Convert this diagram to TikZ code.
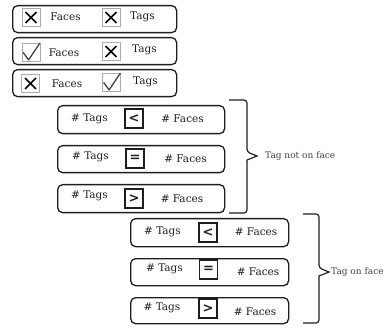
\documentclass[tikz,border=0pt]{standalone}
\usepackage{fontspec}
\usetikzlibrary{calc}
\setmainfont{DejaVu Serif}
\newfontfamily\symfont{DejaVu Sans}
\definecolor{ink}{HTML}{1E1E1E}
\tikzset{
  rowbox/.style={draw=ink, line width=1.3pt, rounded corners=5pt, inner sep=0pt, anchor=north west},
  lbl/.style={text=ink, font=\fontsize{10.5}{12}\selectfont, inner sep=0pt},
  blbl/.style={text=ink!85, font=\fontsize{9}{11}\selectfont, inner sep=0pt, anchor=west},
  cbox/.style={draw=gray!65, line width=0.8pt, minimum size=18pt, inner sep=0pt},
  sbox/.style={draw=ink, line width=1.4pt, minimum width=18pt, minimum height=19pt, inner sep=0pt, font=\symfont\bfseries\fontsize{13}{13}\selectfont, text=ink},
  xline/.style={draw=black, line width=1.7pt},
  vline/.style={draw=ink!85, line width=1.3pt, line join=round},
  bracel/.style={draw=ink, line width=1.2pt, rounded corners=3pt}
}
\newcommand\drawX[1]{\draw[xline] ($(#1.north west)+(4,4)$) -- ($(#1.south east)+(-4,-4)$) ($(#1.north east)+(-4,4)$) -- ($(#1.south west)+(4,-4)$);}
\newcommand\drawV[1]{\draw[vline] ($(#1.south west)+(1.5,-9)$) -- ($(#1.south west)+(7,-1.5)$) -- ($(#1.north east)+(-0.5,0.5)$);}
\begin{document}
\begin{tikzpicture}[x=1pt,y=-1pt]
\useasboundingbox (0,0) rectangle (390,328);
% top rows
\node[rowbox, minimum width=164pt, minimum height=27pt] (t1) at (12,5) {};
\node[rowbox, minimum width=164pt, minimum height=27pt] (t2) at (12,37) {};
\node[rowbox, minimum width=164pt, minimum height=27pt] (t3) at (12,69) {};
\node[cbox] (c1a) at (31,17.5) {};
\node[cbox] (c1b) at (111,17.5) {};
\node[cbox] (c2a) at (31,52) {};
\node[cbox] (c2b) at (111,51.5) {};
\node[cbox] (c3a) at (30.5,83.5) {};
\node[cbox] (c3b) at (111.5,82) {};
\drawX{c1a}\drawX{c1b}
\drawV{c2a}\drawX{c2b}
\drawX{c3a}\drawV{c3b}
\node[lbl] (f1) at (65.5,17) {Faces};
\node[lbl] (g1) at (142.5,16.5) {Tags};
\node[lbl] (f2) at (64,52.5) {Faces};
\node[lbl] (g2) at (144.5,50) {Tags};
\node[lbl] (f3) at (67,84) {Faces};
\node[lbl] (g3) at (145.5,82) {Tags};
% middle rows
\node[rowbox, minimum width=167pt, minimum height=28pt] (m1) at (57,105) {};
\node[rowbox, minimum width=167pt, minimum height=27pt] (m2) at (57,145) {};
\node[rowbox, minimum width=167pt, minimum height=28pt] (m3) at (57,184) {};
\node[lbl] (mt1) at (89.5,119) {\# Tags};
\node[sbox] (ms1) at (134,118.5) {<};
\node[lbl] (mf1) at (182.5,119) {\# Faces};
\node[lbl] (mt2) at (90.5,157) {\# Tags};
\node[sbox] (ms2) at (135,158.5) {=};
\node[lbl] (mf2) at (185.5,158.5) {\# Faces};
\node[lbl] (mt3) at (89.5,195.5) {\# Tags};
\node[sbox] (ms3) at (134,198.5) {>};
\node[lbl] (mf3) at (182,199) {\# Faces};
% lower rows
\node[rowbox, minimum width=158pt, minimum height=28pt] (l1) at (130,218) {};
\node[rowbox, minimum width=158pt, minimum height=27pt] (l2) at (130,258) {};
\node[rowbox, minimum width=158pt, minimum height=26pt] (l3) at (130,297) {};
\node[lbl] (lt1) at (162.5,232) {\# Tags};
\node[sbox] (ls1) at (208,232.5) {<};
\node[lbl] (lf1) at (256,232) {\# Faces};
\node[lbl] (lt2) at (164.5,268.5) {\# Tags};
\node[sbox] (ls2) at (208.5,269.5) {=};
\node[lbl] (lf2) at (258,271.5) {\# Faces};
\node[lbl] (lt3) at (162,308) {\# Tags};
\node[sbox] (ls3) at (208,308.5) {>};
\node[lbl] (lf3) at (255,311.5) {\# Faces};
% braces
\coordinate (b1) at (257,156);
\draw[bracel] (229,100) -- (247,100) -- (247,152) [sharp corners] -- (b1) -- (247,160) [rounded corners=3pt] -- (247,213) -- (229,213);
\node[blbl] (n1) at (265,156) {Tag not on face};
\coordinate (b2) at (329,272);
\draw[bracel] (303,214) -- (319,214) -- (319,268) [sharp corners] -- (b2) -- (319,276) [rounded corners=3pt] -- (319,323) -- (303,323);
\node[blbl] (n2) at (331,272) {Tag on face};
\end{tikzpicture}
\end{document}
